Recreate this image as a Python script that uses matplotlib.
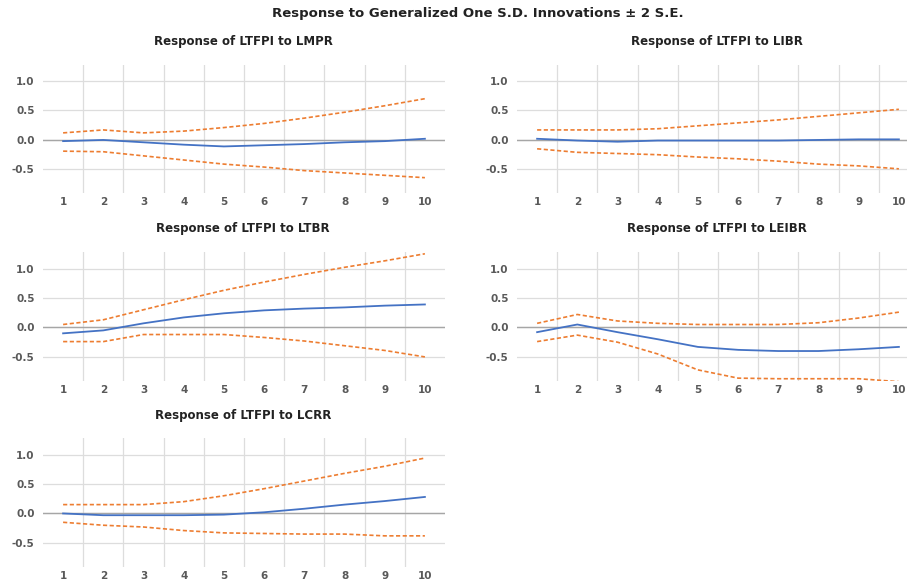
import matplotlib.pyplot as plt
import numpy as np

steps = np.arange(1, 11)
x_labels = [str(i) for i in steps]
y_ticks = [-0.5, 0.0, 0.5, 1.0]
y_ticklabels = ['-0.5', '0.0', '0.5', '1.0']

titles = ['Response of LTFPI to LMPR', 'Response of LTFPI to LIBR',
          'Response of LTFPI to LTBR', 'Response of LTFPI to LEIBR',
          'Response of LTFPI to LCRR']

# impulse responses (blue) and +/- 2 S.E. bands (orange)
lmpr_resp = [-0.02, 0.00, -0.04, -0.08, -0.11, -0.09, -0.07, -0.04, -0.02, 0.02]
lmpr_up = [0.12, 0.17, 0.12, 0.15, 0.21, 0.28, 0.37, 0.47, 0.58, 0.70]
lmpr_lo = [-0.19, -0.20, -0.27, -0.34, -0.41, -0.46, -0.52, -0.56, -0.60, -0.64]

libr_resp = [0.02, -0.01, -0.03, -0.01, -0.01, -0.01, -0.01, 0.00, 0.01, 0.01]
libr_up = [0.17, 0.17, 0.17, 0.19, 0.24, 0.29, 0.34, 0.40, 0.46, 0.52]
libr_lo = [-0.15, -0.21, -0.23, -0.25, -0.29, -0.32, -0.36, -0.41, -0.44, -0.49]

ltbr_resp = [-0.10, -0.05, 0.07, 0.17, 0.24, 0.29, 0.32, 0.34, 0.37, 0.39]
ltbr_up = [0.05, 0.13, 0.30, 0.47, 0.63, 0.77, 0.90, 1.02, 1.13, 1.25]
ltbr_lo = [-0.24, -0.24, -0.12, -0.12, -0.12, -0.17, -0.23, -0.31, -0.39, -0.50]

leibr_resp = [-0.08, 0.05, -0.08, -0.20, -0.33, -0.38, -0.40, -0.40, -0.37, -0.33]
leibr_up = [0.07, 0.22, 0.11, 0.07, 0.05, 0.05, 0.05, 0.08, 0.16, 0.26]
leibr_lo = [-0.24, -0.13, -0.25, -0.45, -0.72, -0.86, -0.87, -0.87, -0.87, -0.92]

lcrr_resp = [0.00, -0.03, -0.03, -0.03, -0.02, 0.02, 0.08, 0.15, 0.21, 0.28]
lcrr_up = [0.15, 0.15, 0.15, 0.20, 0.30, 0.42, 0.55, 0.68, 0.80, 0.94]
lcrr_lo = [-0.15, -0.20, -0.23, -0.29, -0.33, -0.34, -0.35, -0.35, -0.38, -0.38]

series = [(lmpr_resp, lmpr_up, lmpr_lo), (libr_resp, libr_up, libr_lo),
          (ltbr_resp, ltbr_up, ltbr_lo), (leibr_resp, leibr_up, leibr_lo),
          (lcrr_resp, lcrr_up, lcrr_lo)]

W, H = 907, 582
fig = plt.figure(figsize=(W / 100, H / 100), dpi=100)

# panel boxes in pixels: left, top, width, height
col_x = [43, 517]
row_top = [64.5, 252, 438]
ph = 128.5
pw = 402

blue = '#4472C4'
orange = '#ED7D31'

fig.text(478 / W, 1 - 14 / H, 'Response to Generalized One S.D. Innovations \u00b1 2 S.E.',
         ha='center', va='center', fontsize=9.5, fontweight='bold', color='#222222')

for k, (resp, up, lo) in enumerate(series):
    r, c = divmod(k, 2)
    left = col_x[c]
    top = row_top[r]
    ax = fig.add_axes([left / W, 1 - (top + ph) / H, pw / W, ph / H])
    ax.set_xlim(0.5, 10.5)
    ax.set_ylim(-0.9, 1.28)
    for s in ax.spines.values():
        s.set_visible(False)
    ax.set_xticks(steps)
    ax.set_xticklabels(x_labels)
    ax.set_xticks(np.arange(1.5, 10.5, 1.0), minor=True)
    ax.set_yticks(y_ticks)
    ax.set_yticklabels(y_ticklabels)
    ax.tick_params(which='both', length=0)
    ax.tick_params(axis='x', pad=3, labelsize=7.5, labelcolor='#595959')
    ax.tick_params(axis='y', pad=6, labelsize=7.5, labelcolor='#595959')
    for lab in ax.get_xticklabels() + ax.get_yticklabels():
        lab.set_fontweight('bold')
    ax.grid(axis='x', which='minor', color='#DDDDDD', lw=0.9)
    ax.grid(axis='y', which='major', color='#DDDDDD', lw=0.9)
    ax.set_axisbelow(True)
    ax.axhline(0, color='#A6A6A6', lw=1.0, zorder=1)
    ax.plot(steps, up, color=orange, lw=1.2, dashes=(2.5, 1.5), zorder=3)
    ax.plot(steps, lo, color=orange, lw=1.2, dashes=(2.5, 1.5), zorder=3)
    ax.plot(steps, resp, color=blue, lw=1.3, zorder=4)
    fig.text((left + 200) / W, 1 - (top - 23) / H, titles[k], ha='center', va='center',
             fontsize=8.5, fontweight='bold', color='#222222')

fig.savefig('out.png', dpi=100)
